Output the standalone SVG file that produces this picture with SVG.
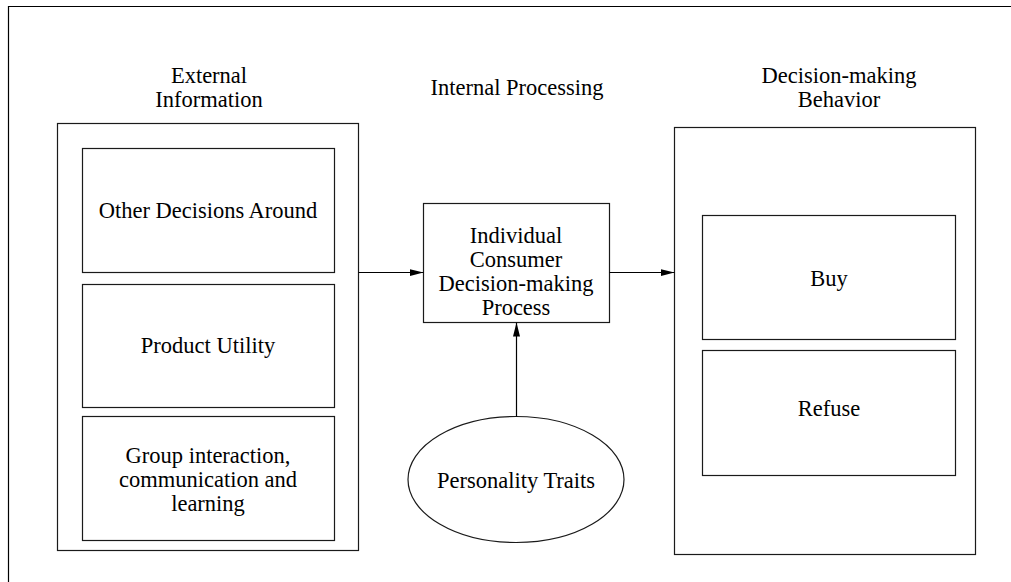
<svg xmlns="http://www.w3.org/2000/svg" width="1011" height="582" viewBox="0 0 1011 582">
<style>
.box{fill:#fff;stroke:#1a1a1a;stroke-width:1.2}
.t{font-family:"Liberation Serif","Times New Roman",serif;font-size:22.5px;fill:#000;text-anchor:middle}
.c{stroke:#000;stroke-width:1.2;fill:none}
</style>
<defs>
<marker id="ah" markerWidth="14" markerHeight="8" refX="14" refY="4" orient="auto" markerUnits="userSpaceOnUse">
<path d="M0,0.5 L14,4 L0,7.5 Z" fill="#000"/>
</marker>
</defs>
<rect width="1011" height="582" fill="#fff"/>
<path d="M8.5,582 V6.5 H1011" fill="none" stroke="#000" stroke-width="1.2"/>
<g id="headers">
<text class="t" x="209" y="83">External</text>
<text class="t" x="209" y="107">Information</text>
<text class="t" x="517" y="95">Internal Processing</text>
<text class="t" x="839" y="83">Decision-making</text>
<text class="t" x="839" y="107">Behavior</text>
</g>
<g id="external">
<rect class="box" x="57.5" y="123.5" width="301" height="427"/>
</g>
<g id="other">
<rect class="box" x="82.5" y="148.5" width="252" height="124"/>
<text class="t" x="208" y="218">Other Decisions Around</text>
</g>
<g id="utility">
<rect class="box" x="82.5" y="284.5" width="252" height="123"/>
<text class="t" x="208" y="353">Product Utility</text>
</g>
<g id="group">
<rect class="box" x="82.5" y="416.5" width="252" height="124"/>
<text class="t" x="208" y="463">Group interaction,</text>
<text class="t" x="208" y="487">communication and</text>
<text class="t" x="208" y="511">learning</text>
</g>
<g id="process">
<rect class="box" x="423.5" y="203.5" width="186" height="119"/>
<text class="t" x="516" y="243">Individual</text>
<text class="t" x="516" y="267">Consumer</text>
<text class="t" x="516" y="291">Decision-making</text>
<text class="t" x="516" y="315">Process</text>
</g>
<g id="personality">
<ellipse class="box" cx="516" cy="479.5" rx="108" ry="63"/>
<text class="t" x="516" y="488">Personality Traits</text>
</g>
<g id="behavior">
<rect class="box" x="674.5" y="127.5" width="301" height="427"/>
</g>
<g id="buy">
<rect class="box" x="702.5" y="215.5" width="253" height="124"/>
<text class="t" x="829" y="286">Buy</text>
</g>
<g id="refuse">
<rect class="box" x="702.5" y="350.5" width="253" height="125"/>
<text class="t" x="829" y="416">Refuse</text>
</g>
<g id="connectors">
<line class="c" x1="358.5" y1="272.5" x2="423.5" y2="272.5" marker-end="url(#ah)"/>
<line class="c" x1="609.5" y1="272.5" x2="674.5" y2="272.5" marker-end="url(#ah)"/>
<line class="c" x1="516.5" y1="416.5" x2="516.5" y2="322.5" marker-end="url(#ah)"/>
</g>
</svg>
